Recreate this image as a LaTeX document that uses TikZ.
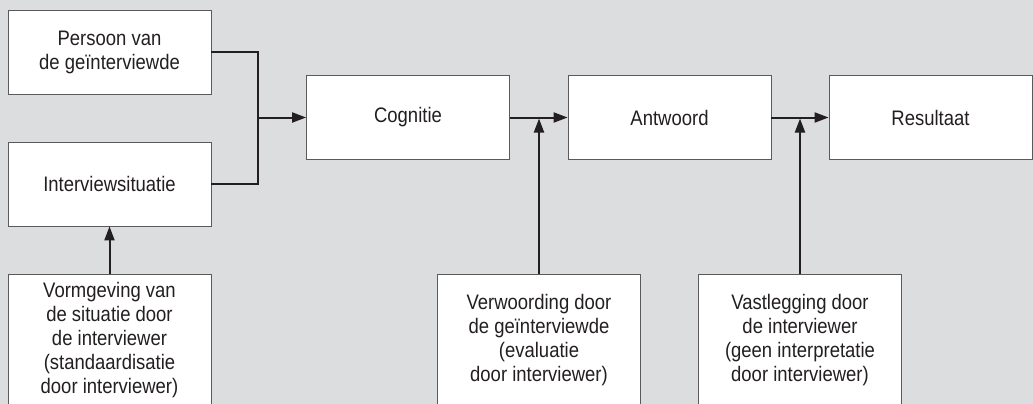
\documentclass[tikz,border=0pt]{standalone}
\usepackage{fontspec}
\setmainfont{Liberation Sans}[FakeStretch=0.88]
\usetikzlibrary{arrows.meta}
\definecolor{bg}{HTML}{DCDDDF}
\definecolor{ink}{HTML}{231F20}
\definecolor{boxline}{HTML}{5A5A5C}
\newcommand\diagfont{\fontsize{21pt}{24pt}\selectfont}

\begin{document}
\begin{tikzpicture}[x=1pt,y=-1pt,
    box/.style={draw=boxline,fill=white,line width=0.8pt,text=ink,
      minimum width=203pt,minimum height=84pt,align=center,inner sep=0pt,font=\diagfont},
    lowbox/.style={box,minimum height=132pt},
    link/.style={draw=ink,line width=2pt},
    arr/.style={link,-{Triangle[length=14pt,width=10pt]}}]
  \useasboundingbox (0,0) rectangle (1033,404);
  \clip (0,0) rectangle (1033,404);
  \fill[bg] (0,0) rectangle (1033,404);

  % left column
  \node[box] (persoon) at (109.5,52) {Persoon van\\de geïnterviewde};
  \node[box] (situatie) at (109.5,184) {Interviewsituatie};
  \node[lowbox] (vormgeving) at (109.5,340) {Vormgeving van\\de situatie door\\de interviewer\\(standaardisatie\\door interviewer)};
  \draw[arr] (vormgeving) -- (situatie);

  % main row
  \node[box] (cognitie) at (408,117.5) {Cognitie};
  \node[box] (antwoord) at (669.5,117.5) {Antwoord};
  \node[box] (resultaat) at (930.5,117.5) {Resultaat};
  \coordinate (samen) at (258,117.5);
  \draw[link] (persoon.east) -| (samen) |- (situatie.east);
  \draw[arr] (samen) -- (cognitie);
  \draw[arr] (cognitie) -- (antwoord);
  \draw[arr] (antwoord) -- (resultaat);

  % influences from below
  \node[lowbox] (verwoording) at (539,340) {Verwoording door\\de geïnterviewde\\(evaluatie\\door interviewer)};
  \node[lowbox] (vastlegging) at (800,340) {Vastlegging door\\de interviewer\\(geen interpretatie\\door interviewer)};
  \draw[arr,shorten >=1pt] (verwoording.north) -- (verwoording.north |- cognitie.east);
  \draw[arr,shorten >=1pt] (vastlegging.north) -- (vastlegging.north |- antwoord.east);
\end{tikzpicture}
\end{document}
